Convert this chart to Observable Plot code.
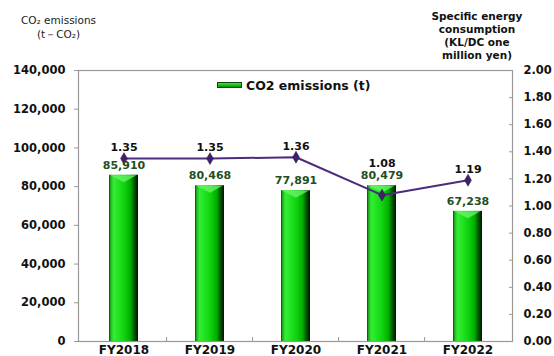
<!DOCTYPE html>
<html><head><meta charset="utf-8">
<script src="https://cdn.jsdelivr.net/npm/d3@7"></script>
<script src="https://cdn.jsdelivr.net/npm/@observablehq/plot@0.6"></script>
<style>
body{margin:0;background:#fff;}
#wrap{position:relative;width:554px;height:356px;overflow:hidden;font-family:"DejaVu Sans",sans-serif;}
#wrap svg{position:absolute;left:0;top:0;}
.lt{position:absolute;left:0;top:13px;width:117px;text-align:center;font-size:10.5px;line-height:14px;color:#222;}
.rt{position:absolute;left:420px;top:9.5px;width:114px;text-align:center;font-size:10.5px;font-weight:bold;line-height:13px;color:#111;}
.lg{position:absolute;left:217px;top:78px;height:14px;display:flex;align-items:center;font-size:12.5px;font-weight:bold;color:#111;white-space:nowrap;}
.sw{width:23px;height:4px;margin-right:4px;border:1px solid #0a4a0a;background:linear-gradient(to bottom,#44e044,#009900);}
</style></head>
<body>
<div id="wrap">
  <div class="lt">CO₂ emissions<br>(t－CO₂)</div>
  <div class="rt">Specific energy<br>consumption<br>(KL/DC one<br>million yen)</div>
</div>
<script>
const years = ["FY2018","FY2019","FY2020","FY2021","FY2022"];
const co2 = [85910, 80468, 77891, 80479, 67238];
const intensity = [1.35, 1.35, 1.36, 1.08, 1.19];
const leftTicks = [0, 20000, 40000, 60000, 80000, 100000, 120000, 140000];
const rightTicks = [0, 0.2, 0.4, 0.6, 0.8, 1.0, 1.2, 1.4, 1.6, 1.8, 2.0];
const seriesName = "CO2 emissions (t)";

const W = 554, H = 356, mL = 78, mR = 42, mT = 70, mB = 15;
const K = 140000 / 2; // secondary axis: 2.00 at the top of the left 140,000 scale
const padInner = 0.666;
const step = (W - mL - mR) / years.length;
const halfBar = step * (1 - padInner) / 2;
const data = years.map((year, i) => ({year, co2: co2[i], intensity: intensity[i]}));

// bevel highlight at the top of each bar (a shallow downward triangle)
const bevel = {draw(ctx) { ctx.moveTo(-halfBar + 1, 0); ctx.lineTo(halfBar - 2, 0); ctx.lineTo(0, 7); ctx.closePath(); }};

const plot = Plot.plot({
  width: W, height: H,
  marginTop: mT, marginBottom: mB, marginLeft: mL, marginRight: mR,
  style: {fontFamily: "DejaVu Sans", fontSize: "11.5px", fontWeight: "bold", color: "#111", background: "transparent", overflow: "visible"},
  x: {domain: years, paddingInner: padInner, paddingOuter: padInner / 2},
  y: {domain: [0, 140000]},
  marks: [
    Plot.barY(data, {x: "year", y: "co2", fill: "url(#barGrad)"}),
    Plot.dot(data, {x: "year", y: "co2", symbol: bevel, r: 1, fill: "#6cf56c", fillOpacity: 0.75, stroke: "none"}),
    Plot.ruleX(years.slice(1), {x: d => d, y1: 0, y2: 0, insetTop: -4, dx: -step / 2, stroke: "#999"}),
    Plot.line(data, {x: "year", y: d => d.intensity * K, stroke: "#4b2c7e", strokeWidth: 2}),
    Plot.dot(data, {x: "year", y: d => d.intensity * K, symbol: "diamond", r: 3.6, fill: "#3d2266", stroke: "#2a1550", strokeWidth: 0.5}),
    Plot.text(data, {x: "year", y: "co2", text: d => d3.format(",")(d.co2), dy: -10, fill: "#1f4f22", fontSize: 11}),
    Plot.text(data, {x: "year", y: d => Math.max(d.intensity * K, d.co2 + 6000), text: d => d.intensity.toFixed(2), dy: -11, fill: "#111", fontSize: 11}),
    Plot.frame({stroke: "#999", strokeWidth: 1.2}),
    Plot.axisY({ticks: leftTicks, tickSize: 4, tickPadding: 9, tickFormat: d3.format(","), label: null, stroke: "#999"}),
    Plot.axisY({anchor: "right", ticks: rightTicks.map(v => v * K), tickSize: -4, tickPadding: 15, tickFormat: d => (d / K).toFixed(2), label: null, stroke: "#999"}),
    Plot.axisX({tickSize: 0, tickPadding: 4, fontSize: 12, label: null})
  ]
});

const svg = d3.select(plot);
const defs = svg.insert("defs", ":first-child");
const g = defs.append("linearGradient").attr("id", "barGrad").attr("x1", 0).attr("x2", 1).attr("y1", 0).attr("y2", 0);
[[0, "#0b3d0b"], [0.06, "#22b822"], [0.16, "#33ee33"], [0.5, "#12d612"], [0.74, "#00b000"], [0.87, "#005800"], [1, "#001500"]]
  .forEach(([o, c]) => g.append("stop").attr("offset", o).attr("stop-color", c));

const wrap = document.getElementById("wrap");
wrap.prepend(plot);
const lg = document.createElement("div");
lg.className = "lg";
lg.innerHTML = '<div class="sw"></div><span></span>';
lg.querySelector("span").textContent = seriesName;
wrap.appendChild(lg);
</script>
</body></html>
